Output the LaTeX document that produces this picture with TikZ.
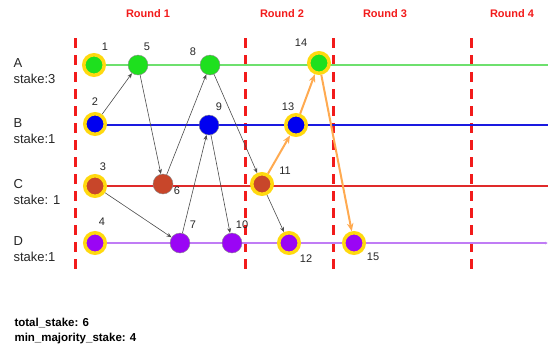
\documentclass[tikz,border=0pt]{standalone}
\usepackage{fontspec}
\setmainfont{Liberation Sans}
\usetikzlibrary{arrows.meta}
\definecolor{ringyellow}{HTML}{FFD90F}
\definecolor{fillA}{HTML}{1EE01E}
\definecolor{fillB}{HTML}{0000F0}
\definecolor{fillC}{HTML}{C8462A}
\definecolor{fillD}{HTML}{9A05F5}
\definecolor{lineA}{HTML}{6EE06E}
\definecolor{lineB}{HTML}{1A1AE0}
\definecolor{lineC}{HTML}{E02A2A}
\definecolor{lineD}{HTML}{C07CF5}
\definecolor{orangearr}{HTML}{FFAA50}
\definecolor{roundred}{HTML}{F21B1B}
\begin{document}
\begin{tikzpicture}[x=1pt, y=-1pt, >=Stealth,
    evt/.style={circle, draw=black!45, thin, minimum size=20pt, inner sep=0pt},
    wit/.style={circle, draw=ringyellow, line width=3.5pt, minimum size=20.5pt, inner sep=0pt},
    num/.style={font=\fontsize{11}{13}\selectfont, text=black!85},
    side/.style={anchor=west, align=left, font=\fontsize{13}{16}\selectfont, text=black!85},
    rnd/.style={font=\bfseries\fontsize{11}{13}\selectfont, text=roundred},
    bar/.style={draw=roundred, line width=3pt, dash pattern=on 10pt off 7pt},
    msg/.style={-{Stealth[length=5pt,width=4pt]}, draw=black!70, line width=0.6pt},
    strong/.style={-{Stealth[length=8pt,width=6.5pt]}, draw=orangearr, fill=orangearr, line width=2pt},
    tline/.style={line width=1.3pt}]
    \useasboundingbox (0,0) rectangle (548,349);

    % 1. round headers and dashed round borders
    \node[rnd] (r1) at (148,14) {Round 1};
    \node[rnd] (r2) at (282,14) {Round 2};
    \node[rnd] (r3) at (385,14) {Round 3};
    \node[rnd] (r4) at (512,14) {Round 4};
    \foreach \bx in {75,245,333,471}
        \draw[bar] (\bx,38) -- (\bx,272);

    % 2. participants
    \node[side] (pA) at (10,71) {A\\stake:3};
    \node[side] (pB) at (10,131) {B\\stake:1};
    \node[side] (pC) at (10,192) {C\\stake: 1};
    \node[side] (pD) at (10,249) {D\\stake:1};

    % 3. time lines (behind the events)
    \coordinate (eA) at (548,65);
    \coordinate (eB) at (548,125);
    \coordinate (eC) at (548,186);
    \coordinate (eD) at (548,243);
    \draw[tline, draw=lineA] (94,65) -- (eA);
    \draw[tline, draw=lineB] (95,125) -- (eB);
    \draw[tline, draw=lineC] (95,186) -- (eC);
    \draw[tline, draw=lineD, -{Latex[length=3pt,width=3pt]}] (95,243) -- (eD);

    % 4. events
    \node[wit, fill=fillA] (n1) at (94,65) {};
    \node[wit, fill=fillB] (n2) at (95,124) {};
    \node[wit, fill=fillC] (n3) at (95,186) {};
    \node[wit, fill=fillD] (n4) at (95,243) {};
    \node[evt, fill=fillA] (n5) at (138,65) {};
    \node[evt, fill=fillC] (n6) at (163,184) {};
    \node[evt, fill=fillD] (n7) at (180,243) {};
    \node[evt, fill=fillA] (n8) at (210,65) {};
    \node[evt, fill=fillB] (n9) at (209,125) {};
    \node[evt, fill=fillD] (n10) at (232,243) {};
    \node[wit, fill=fillC] (n11) at (262,184) {};
    \node[wit, fill=fillD] (n12) at (289,243) {};
    \node[wit, fill=fillB] (n13) at (296,125) {};
    \node[wit, fill=fillA] (n14) at (319,63) {};
    \node[wit, fill=fillD] (n15) at (354,243) {};

    % 5. event numbers
    \node[num] (l1) at (105,47) {1};
    \node[num] (l2) at (95,102) {2};
    \node[num] (l3) at (103,167) {3};
    \node[num] (l4) at (102,222) {4};
    \node[num] (l5) at (147,47) {5};
    \node[num] (l6) at (177,191) {6};
    \node[num] (l7) at (193,225) {7};
    \node[num] (l8) at (193,52) {8};
    \node[num] (l9) at (219,107) {9};
    \node[num] (l10) at (242,225) {10};
    \node[num] (l11) at (285,171) {11};
    \node[num] (l12) at (306,259) {12};
    \node[num] (l13) at (288,107) {13};
    \node[num] (l14) at (301,43) {14};
    \node[num] (l15) at (373,257) {15};

    % 6. gossip between events
    \draw[msg] (n2) -- (n5);
    \draw[msg] (n5) -- (n6);
    \draw[msg] (n6) -- (n8);
    \draw[msg] (n3) -- (n7);
    \draw[msg] (n7) -- (n9);
    \draw[msg] (n9) -- (n10);
    \draw[msg] (n8) -- (n11);
    \draw[msg] (n11) -- (n12);

    % 7. strongly seen path
    \draw[strong] (n11) -- (n13);
    \draw[strong] (n13) -- (n14);
    \draw[strong] (n14) -- (n15);

    % 8. totals
    \node[anchor=west, align=left, font=\bfseries\fontsize{11.5}{15}\selectfont, text=black] (tot) at (11,331)
        {total\_stake: 6\\min\_majority\_stake: 4};
\end{tikzpicture}
\end{document}
